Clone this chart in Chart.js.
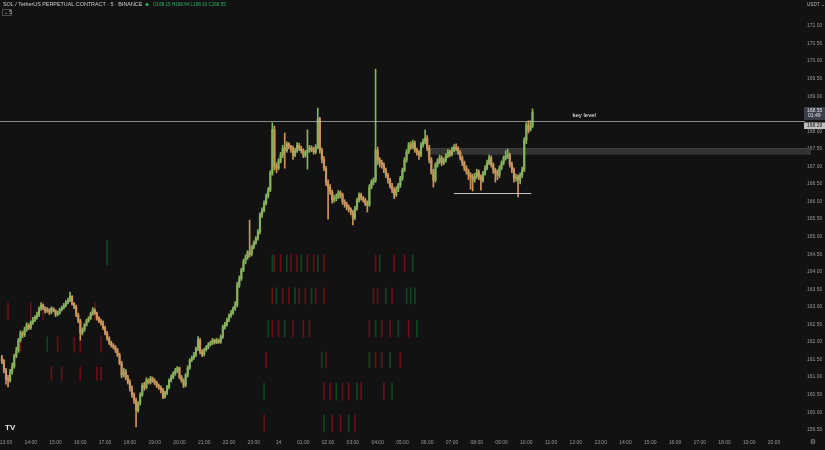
<!DOCTYPE html>
<html>
<head>
<meta charset="utf-8">
<script src="https://cdn.jsdelivr.net/npm/chart.js@4"></script>
<style>
  html, body { margin: 0; padding: 0; background: #121212; }
  canvas { display: block; }
</style>
</head>
<body>
<canvas id="c" width="825" height="450"></canvas>
<script>
// === data ===
const hourLabels = ['13:00','14:00','15:00','16:00','17:00','18:00','19:00','20:00','21:00','22:00','23:00','14',
  '01:00','02:00','03:00','04:00','05:00','06:00','07:00','08:00','09:00','10:00','11:00','12:00',
  '13:00','14:00','15:00','16:00','17:00','18:00','19:00','20:00'];
const priceTicks = [159.5,160,160.5,161,161.5,162,162.5,163,163.5,164,164.5,165,165.5,166,166.5,167,167.5,168,168.5,169,169.5,170,170.5,171];

// 5 minute candles, first one at 12:50
const firstOpen = 161.55;
const closes = [
  161.45,161.20,160.95,160.90,161.15,161.30,161.60,161.75,162.05,162.25,162.20,162.35,
  162.48,162.40,162.55,162.62,162.70,162.77,162.95,163.05,162.98,162.88,162.91,162.85,
  162.95,162.90,162.78,162.82,162.92,162.97,163.05,163.12,163.19,163.30,163.10,163.00,
  162.77,162.60,162.25,162.35,162.48,162.60,162.68,162.80,162.91,162.82,162.68,162.60,
  162.54,162.40,162.25,162.10,161.97,161.90,161.85,161.77,161.63,161.40,161.06,161.15,
  161.00,160.85,160.69,160.50,160.34,160.05,160.25,160.49,160.77,160.70,160.91,160.85,
  160.97,160.90,160.83,160.75,160.70,160.63,160.43,160.55,160.71,160.91,161.00,161.11,
  161.18,161.26,161.00,160.90,160.77,161.05,161.26,161.48,161.55,161.63,161.80,162.05,
  161.71,161.65,161.78,161.85,161.92,161.97,162.05,161.98,162.05,162.00,162.14,162.42,
  162.50,162.62,162.75,162.82,162.95,163.05,163.62,163.80,164.05,164.28,164.40,164.56,
  164.50,164.70,164.82,164.95,165.13,165.62,165.75,165.95,166.16,166.33,166.81,168.05,
  167.00,166.95,167.15,167.32,167.52,167.45,167.64,167.58,167.52,167.32,167.45,167.60,
  167.52,167.45,167.32,167.40,167.46,167.52,167.48,167.41,167.55,168.35,167.46,167.20,
  166.95,166.53,166.40,166.27,166.04,166.10,166.13,166.25,166.19,165.99,165.92,165.84,
  165.78,165.70,165.53,165.80,166.04,166.19,166.10,166.04,165.95,165.90,166.41,166.55,
  166.61,167.46,167.18,167.10,167.04,166.90,166.75,166.61,166.45,166.33,166.19,166.35,
  166.47,166.67,166.90,167.18,167.41,167.61,167.55,167.67,167.47,167.40,167.33,167.61,
  167.70,167.81,167.52,167.18,166.85,166.61,167.04,167.15,167.24,167.10,167.18,167.30,
  167.41,167.35,167.47,167.55,167.52,167.40,167.24,167.10,166.95,166.85,166.75,166.70,
  166.61,166.72,166.84,166.70,166.61,166.80,166.95,167.10,167.24,167.05,166.90,166.82,
  166.75,166.95,167.10,167.24,167.30,167.32,167.05,166.90,166.67,166.70,166.61,166.75,
  166.90,167.75,168.18,168.05,168.15,168.55
];
const highs = [
  161.62,161.50,161.25,161.05,161.22,161.40,161.65,161.85,162.10,162.32,162.30,162.42,
  162.55,162.52,162.60,162.70,162.75,162.85,163.00,163.12,163.08,163.00,162.98,162.95,
  163.00,162.98,162.92,162.88,162.96,163.02,163.10,163.18,163.25,163.42,163.32,163.12,
  163.05,162.82,162.65,162.40,162.52,162.65,162.72,162.85,162.98,162.95,162.85,162.72,
  162.65,162.60,162.45,162.30,162.15,162.02,161.95,161.90,161.82,161.68,161.45,161.25,
  161.22,161.05,160.92,160.75,160.55,160.40,160.30,160.55,160.82,160.85,160.98,160.95,
  161.02,161.00,160.95,160.88,160.80,160.75,160.68,160.60,160.76,160.95,161.06,161.15,
  161.25,161.30,161.28,161.05,160.95,161.10,161.32,161.52,161.60,161.70,161.85,162.15,
  162.10,161.78,161.82,161.90,161.98,162.02,162.10,162.08,162.10,162.08,162.20,162.48,
  162.56,162.68,162.80,162.90,163.00,163.15,163.70,163.88,164.10,164.35,164.48,164.60,
  165.47,164.75,164.88,165.00,165.20,165.68,165.82,166.02,166.22,166.40,166.88,168.24,
  168.15,167.10,167.22,167.40,167.60,167.95,167.70,167.68,167.60,167.58,167.52,167.68,
  167.66,167.58,167.50,167.45,168.04,167.60,167.58,167.55,167.62,168.66,168.40,167.52,
  167.28,167.00,166.62,166.48,166.32,166.18,166.22,166.32,166.30,166.24,166.05,165.98,
  165.90,165.82,165.75,165.86,166.10,166.25,166.24,166.15,166.10,166.02,166.48,166.62,
  166.68,169.77,167.55,167.25,167.18,167.10,166.95,166.80,166.66,166.52,166.40,166.42,
  166.52,166.72,166.95,167.25,167.48,167.68,167.70,167.75,167.72,167.52,167.45,167.68,
  167.78,168.04,167.88,167.60,167.25,166.92,167.10,167.22,167.32,167.30,167.24,167.36,
  167.48,167.46,167.55,167.62,167.64,167.56,167.45,167.30,167.15,167.02,166.92,166.82,
  166.78,166.80,166.92,166.90,166.76,166.86,167.02,167.18,167.32,167.30,167.10,166.95,
  166.90,167.02,167.16,167.30,167.45,167.50,167.38,167.12,166.96,166.78,166.76,166.82,
  166.98,167.82,168.25,168.30,168.30,168.64
];
const lows = [
  161.38,161.12,160.80,160.72,160.85,161.08,161.25,161.55,161.70,162.00,162.12,162.15,
  162.30,162.35,162.36,162.50,162.58,162.65,162.72,162.90,162.92,162.82,162.84,162.78,
  162.80,162.86,162.72,162.74,162.79,162.88,162.94,163.00,163.08,163.15,163.05,162.95,
  162.72,162.55,162.05,162.20,162.30,162.45,162.56,162.64,162.76,162.78,162.62,162.55,
  162.48,162.35,162.20,162.05,161.92,161.85,161.80,161.70,161.58,161.35,160.98,161.00,
  160.92,160.80,160.60,160.42,160.25,159.58,160.00,160.20,160.45,160.62,160.66,160.80,
  160.80,160.85,160.78,160.70,160.65,160.55,160.38,160.40,160.50,160.66,160.86,160.95,
  161.05,161.12,160.95,160.85,160.70,160.72,161.00,161.22,161.44,161.50,161.58,161.75,
  161.66,161.58,161.60,161.74,161.80,161.88,161.92,161.94,161.95,161.96,161.96,162.10,
  162.36,162.45,162.58,162.70,162.78,162.90,163.00,163.55,163.75,164.00,164.22,164.35,
  164.42,164.45,164.65,164.78,164.90,165.08,165.55,165.70,165.90,166.10,166.28,166.75,
  166.90,166.82,166.90,167.10,167.25,166.95,167.40,167.50,167.40,167.20,167.28,167.40,
  167.45,167.38,167.25,167.26,166.92,167.40,167.42,167.35,167.36,167.50,167.38,167.10,
  166.88,166.45,165.50,166.20,165.95,165.98,166.02,166.08,166.10,165.92,165.84,165.76,
  165.70,165.62,165.33,165.48,165.75,165.98,166.04,165.98,165.88,165.70,165.86,166.36,
  166.48,166.55,167.05,166.98,166.95,166.82,166.68,166.52,166.38,166.25,166.08,166.14,
  166.28,166.40,166.60,166.85,167.12,167.36,167.48,167.50,167.40,167.32,167.20,167.28,
  167.55,167.64,167.45,167.10,166.78,166.41,166.55,166.98,167.08,167.02,167.05,167.12,
  167.25,167.28,167.30,167.42,167.45,167.34,167.18,167.02,166.88,166.78,166.62,166.35,
  166.30,166.55,166.66,166.62,166.32,166.55,166.75,166.90,167.05,166.98,166.80,166.55,
  166.62,166.68,166.90,167.04,167.18,167.22,166.98,166.82,166.55,166.58,166.13,166.50,
  166.68,166.85,167.65,167.95,168.00,168.10
];

// faint red / green streaks behind the candles (candle index, price range, up?)
const ghostIdx = [131,132,135,138,140,143,145,148,151,153,156, 181,183,190,195,199,
  131,133,136,139,142,144,147,150,152,156, 180,182,186,189,196,198,200,
  129,131,134,137,141,146,149, 178,181,184,188,192,197,201,
  128,155,157, 178,181,184,188,193,
  127,156,159,162,165,168,172,174, 185,189,
  127,156,160,164,168,171,
  3,14,20,45, 9,22,27,35,38,48, 24,29,38,46,48, 51];
const ghostLo = [164.0,164.0,164.0,164.0,164.0,164.0,164.0,164.0,164.0,164.0,164.0, 164.0,164.0,164.0,164.0,164.0,
  163.08,163.08,163.08,163.08,163.08,163.08,163.08,163.08,163.08,163.08, 163.08,163.08,163.08,163.08,163.08,163.08,163.08,
  162.14,162.14,162.14,162.14,162.14,162.14,162.14, 162.14,162.14,162.14,162.14,162.14,162.14,162.14,
  161.26,161.26,161.26, 161.26,161.26,161.26,161.26,161.26,
  160.34,160.34,160.34,160.34,160.34,160.34,160.34,160.34, 160.34,160.34,
  159.43,159.43,159.43,159.43,159.43,159.43,
  162.62,162.62,162.62,162.62, 161.71,161.71,161.71,161.71,161.71,161.71, 160.91,160.91,160.91,160.91,160.91, 164.19];
const ghostHi = [164.48,164.48,164.48,164.48,164.48,164.48,164.48,164.48,164.48,164.48,164.48, 164.48,164.48,164.48,164.48,164.48,
  163.54,163.54,163.54,163.54,163.54,163.54,163.54,163.54,163.54,163.54, 163.54,163.54,163.54,163.54,163.54,163.54,163.54,
  162.62,162.62,162.62,162.62,162.62,162.62,162.62, 162.62,162.62,162.62,162.62,162.62,162.62,162.62,
  161.71,161.71,161.71, 161.71,161.71,161.71,161.71,161.71,
  160.83,160.83,160.83,160.83,160.83,160.83,160.83,160.83, 160.83,160.83,
  159.92,159.92,159.92,159.92,159.92,159.92,
  163.11,163.11,163.11,163.11, 162.14,162.14,162.14,162.14,162.14,162.14, 161.28,161.28,161.28,161.28,161.28, 164.90];
const ghostUp = [1,0,0,1,0,0,1,0,0,1,0, 0,1,0,0,1,
  0,1,0,0,1,0,0,1,0,0, 0,0,1,0,1,1,1,
  1,0,0,1,0,0,0, 0,1,0,0,1,0,1,
  0,1,0, 1,0,0,1,0,
  1,0,0,1,0,0,1,0, 0,1,
  0,1,0,0,1,0,
  0,0,0,0, 0,1,0,0,0,0, 0,0,0,0,0, 1];

const keyLevel = 168.29;
const zoneLow = 167.33, zoneHigh = 167.52;
const supportLevel = 166.24;
const header = 'SOL / TetherUS PERPETUAL CONTRACT · 5 · BINANCE';
const ohlcText = 'O168.15 H168.64 L168.10 C168.55';

// === chart ===
const startMin = -10;   // 12:50, minutes from 13:00
const stepMin = 5;
const upColor = '#88b35c';
const downColor = '#cb965c';
const FONT = '"Liberation Sans", Arial, sans-serif';

const opens = closes.map((c, i) => i === 0 ? firstOpen : closes[i - 1]);
const times = closes.map((c, i) => startMin + stepMin * i);
const candleColors = closes.map((c, i) => c >= opens[i] ? upColor : downColor);

const wickData = times.map((t, i) => ({ x: t, y: [lows[i], highs[i]] }));
const bodyData = times.map((t, i) => ({ x: t, y: [opens[i], closes[i]] }));
const ghostData = ghostIdx.map((k, j) => ({ x: startMin + stepMin * k, y: [ghostLo[j], ghostHi[j]] }));
const ghostColors = ghostUp.map(u => u ? 'rgba(15,120,50,0.5)' : 'rgba(175,15,30,0.55)');

// 不要让 Chart.js 给坐标轴留额外边距
function noPad(s) {
    s.paddingLeft = 0; s.paddingRight = 0; s.paddingTop = 0; s.paddingBottom = 0;
}

const overlay = {
    id: 'overlay',
    beforeDraw(chart) {
        const ctx = chart.ctx;
        ctx.save();
        ctx.fillStyle = '#121212';
        ctx.fillRect(0, 0, chart.width, chart.height);
        ctx.restore();
    },
    beforeDatasetsDraw(chart) {
        const ctx = chart.ctx;
        const xs = chart.scales.x, ys = chart.scales.y;
        const area = chart.chartArea;
        ctx.save();
        // gray zone
        const zx = xs.getPixelForValue(1020);
        const zt = ys.getPixelForValue(zoneHigh), zb = ys.getPixelForValue(zoneLow);
        ctx.fillStyle = '#333333';
        ctx.fillRect(zx, zt, area.right + 8 - zx, zb - zt);
        ctx.fillStyle = '#434343';
        ctx.fillRect(zx, zt, area.right + 8 - zx, 1);
        ctx.restore();
    },
    afterDraw(chart) {
        const ctx = chart.ctx;
        const xs = chart.scales.x, ys = chart.scales.y;
        const area = chart.chartArea;
        ctx.save();

        // key level
        const ky = Math.round(ys.getPixelForValue(keyLevel)) + 0.5;
        ctx.strokeStyle = 'rgba(190,190,190,0.7)';
        ctx.lineWidth = 1;
        ctx.beginPath();
        ctx.moveTo(area.left, ky);
        ctx.lineTo(area.right + 2, ky);
        ctx.stroke();
        ctx.fillStyle = '#f0f0f0';
        ctx.font = '6px ' + FONT;
        ctx.textAlign = 'center';
        ctx.textBaseline = 'middle';
        ctx.fillText('key level', xs.getPixelForValue(1400), ky - 6);

        // support line
        const sy = Math.round(ys.getPixelForValue(supportLevel)) + 0.5;
        ctx.strokeStyle = '#c4c4c4';
        ctx.beginPath();
        ctx.moveTo(xs.getPixelForValue(1085), sy);
        ctx.lineTo(xs.getPixelForValue(1272), sy);
        ctx.stroke();

        // price tags on the axis
        const last = closes[closes.length - 1];
        const py = ys.getPixelForValue(last);
        ctx.fillStyle = '#3a3f4a';
        ctx.fillRect(area.right + 1, py - 5, 22, 13);
        ctx.fillStyle = '#e6e6e6';
        ctx.font = '5px ' + FONT;
        ctx.textAlign = 'left';
        ctx.fillText(last.toFixed(2), area.right + 4, py - 1.5);
        ctx.fillText('01:49', area.right + 5, py + 4);
        ctx.fillStyle = '#bdbdbd';
        ctx.fillRect(area.right + 1, ky + 1, 22, 6.5);
        ctx.fillStyle = '#1a1a1a';
        ctx.fillText(keyLevel.toFixed(2), area.right + 4, ky + 4.5);

        // header
        ctx.font = '5.4px ' + FONT;
        ctx.fillStyle = '#cfcfcf';
        ctx.fillText(header, 3, 4.5);
        ctx.fillStyle = '#2fae6b';
        ctx.beginPath();
        ctx.arc(147, 4.5, 1.6, 0, Math.PI * 2);
        ctx.fill();
        ctx.font = '4.6px ' + FONT;
        ctx.fillText(ohlcText, 153, 4.5);
        ctx.strokeStyle = '#4a4a4a';
        ctx.strokeRect(2.5, 9.5, 9, 6);
        ctx.fillStyle = '#cfcfcf';
        ctx.fillText('⌄ 5', 4, 12.5);

        // USDT label, logo, gear
        ctx.font = '4.6px ' + FONT;
        ctx.fillStyle = '#bdbdbd';
        ctx.fillText('USDT ⌄', 807, 4.5);
        ctx.font = 'bold 8px ' + FONT;
        ctx.fillStyle = '#e8e8e8';
        ctx.fillText('TV', 5, 428);
        ctx.font = '7px "DejaVu Sans", sans-serif';
        ctx.fillStyle = '#9a9a9a';
        ctx.textAlign = 'center';
        ctx.fillText('⚙', 813, 442);
        ctx.restore();
    }
};

new Chart(document.getElementById('c'), {
    type: 'bar',
    data: {
        datasets: [
            { label: 'ghost', data: ghostData, backgroundColor: ghostColors, barThickness: 1, grouped: false, order: 3 },
            { label: 'wick', data: wickData, backgroundColor: candleColors, barThickness: 1, grouped: false, order: 2 },
            { label: 'body', data: bodyData, backgroundColor: candleColors, barThickness: 1.5, minBarLength: 1, grouped: false, order: 1 }
        ]
    },
    options: {
        responsive: false,
        animation: false,
        devicePixelRatio: 1,
        layout: { padding: 0, autoPadding: false },
        plugins: { legend: { display: false }, tooltip: { enabled: false } },
        scales: {
            x: {
                type: 'linear',
                offset: false,
                min: -14.5,
                max: 1930,
                grid: { display: false, drawTicks: false },
                border: { display: false },
                afterBuildTicks: s => { s.ticks = hourLabels.map((l, k) => ({ value: 60 * k })); },
                afterFit: s => { s.height = 14; noPad(s); },
                ticks: {
                    autoSkip: false,
                    maxRotation: 0,
                    padding: 4,
                    color: '#9a9a9a',
                    font: { size: 5, family: FONT },
                    callback: (v, i) => hourLabels[i]
                }
            },
            y: {
                type: 'linear',
                position: 'right',
                min: 159.32,
                max: 171.74,
                grid: { display: false, drawTicks: false },
                border: { display: false },
                afterBuildTicks: s => { s.ticks = priceTicks.map(v => ({ value: v })); },
                afterFit: s => { s.width = 22; noPad(s); },
                ticks: {
                    padding: 4,
                    color: '#9a9a9a',
                    font: { size: 5, family: FONT },
                    callback: v => v.toFixed(2)
                }
            }
        }
    },
    plugins: [overlay]
});
</script>
</body>
</html>
